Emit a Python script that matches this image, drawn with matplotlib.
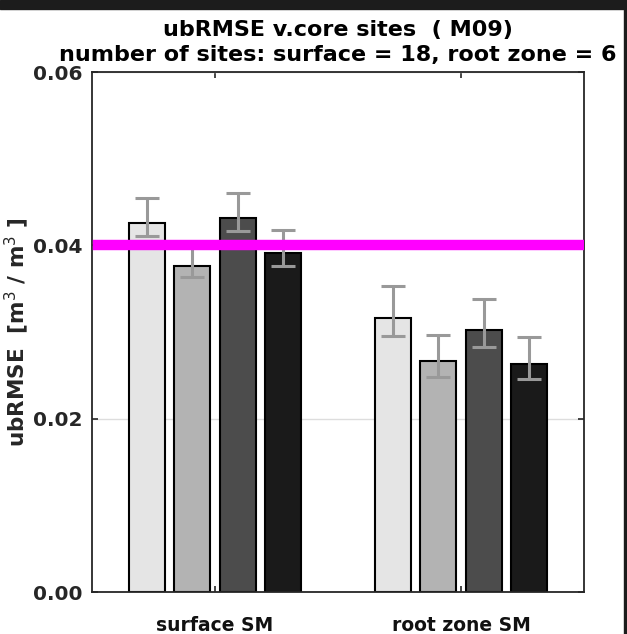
import numpy as np
import matplotlib
matplotlib.use("Agg")
import matplotlib.pyplot as plt
from matplotlib.patches import Rectangle

plt.rcParams['font.family'] = ['DejaVu Sans']

# data
categories = ['surface SM', 'root zone SM']
ubrmse_1 = [0.0426, 0.0316]   # lightest bar
lower_1 = [0.0411, 0.0295]
upper_1 = [0.0455, 0.0353]
ubrmse_2 = [0.0376, 0.0267]
lower_2 = [0.0363, 0.0248]
upper_2 = [0.0400, 0.0297]
ubrmse_3 = [0.0431, 0.0302]
lower_3 = [0.0416, 0.0283]
upper_3 = [0.0460, 0.0338]
ubrmse_4 = [0.0391, 0.0263]   # darkest bar
lower_4 = [0.0376, 0.0246]
upper_4 = [0.0418, 0.0294]
target = 0.04
yticks = [0.00, 0.02, 0.04, 0.06]

werte = [ubrmse_1, ubrmse_2, ubrmse_3, ubrmse_4]
nedre = [lower_1, lower_2, lower_3, lower_4]
ovre = [upper_1, upper_2, upper_3, upper_4]
farger = ['#e5e5e5', '#b3b3b3', '#4c4c4c', '#1a1a1a']

fig = plt.figure(figsize=(6.27, 6.34), dpi=100, facecolor='white')
ax = fig.add_axes([0.1467, 0.0662, 0.7847, 0.8202])

x = np.arange(1, len(categories) + 1)
offsets = [-0.277, -0.092, 0.092, 0.277]
for v, lo, hi, c, off in zip(werte, nedre, ovre, farger, offsets):
    v = np.array(v); lo = np.array(lo); hi = np.array(hi)
    ax.bar(x + off, v, width=0.147, color=c, edgecolor='black', linewidth=1.5, zorder=2)
    ax.errorbar(x + off, v, yerr=[v - lo, hi - v], fmt='none', ecolor='#999999',
                elinewidth=2.2, capsize=8.5, capthick=2.2, zorder=3)

ax.axhline(target, xmin=0.012, xmax=0.99, color='#ff00ff', linewidth=7.5, zorder=4)

ax.set_xlim(0.5, 2.5)
ax.set_ylim(0, 0.06)
ax.set_yticks(yticks)
ax.set_yticklabels([f"{t:.2f}" for t in yticks], fontsize=14.5, fontweight='bold', color='#262626')
ax.set_xticks(x)
ax.set_xticklabels(categories, fontsize=13.5, fontweight='bold', color='#111111')
ax.tick_params(axis='both', direction='in', length=4, width=1.2, color='#262626',
               top=True, right=True)
ax.tick_params(axis='x', pad=17)
ax.tick_params(axis='y', pad=7)
ax.yaxis.grid(True, color='#dddddd', linewidth=1, zorder=0)
ax.set_axisbelow(True)
for s in ax.spines.values():
    s.set_color('#262626')
    s.set_linewidth(1.3)

ax.set_ylabel(r'ubRMSE  [m$^3$ / m$^3$ ]', fontsize=15.5, fontweight='bold', color='#262626', labelpad=1)
ax.set_title("ubRMSE v.core sites  ( M09)\nnumber of sites: surface = 18, root zone = 6",
             fontsize=16, fontweight='bold', linespacing=1.3, pad=8)

# mørk kant øverst og til høyre (fra skjermbilde)
fig.add_artist(Rectangle((0, 1 - 9 / 634), 1, 9 / 634, transform=fig.transFigure,
                         color='#1c1c1c', zorder=10))
fig.add_artist(Rectangle((1 - 3 / 627, 0), 3 / 627, 1, transform=fig.transFigure,
                         color='#1c1c1c', zorder=10))

fig.savefig('out.png', dpi=100, facecolor='white')
